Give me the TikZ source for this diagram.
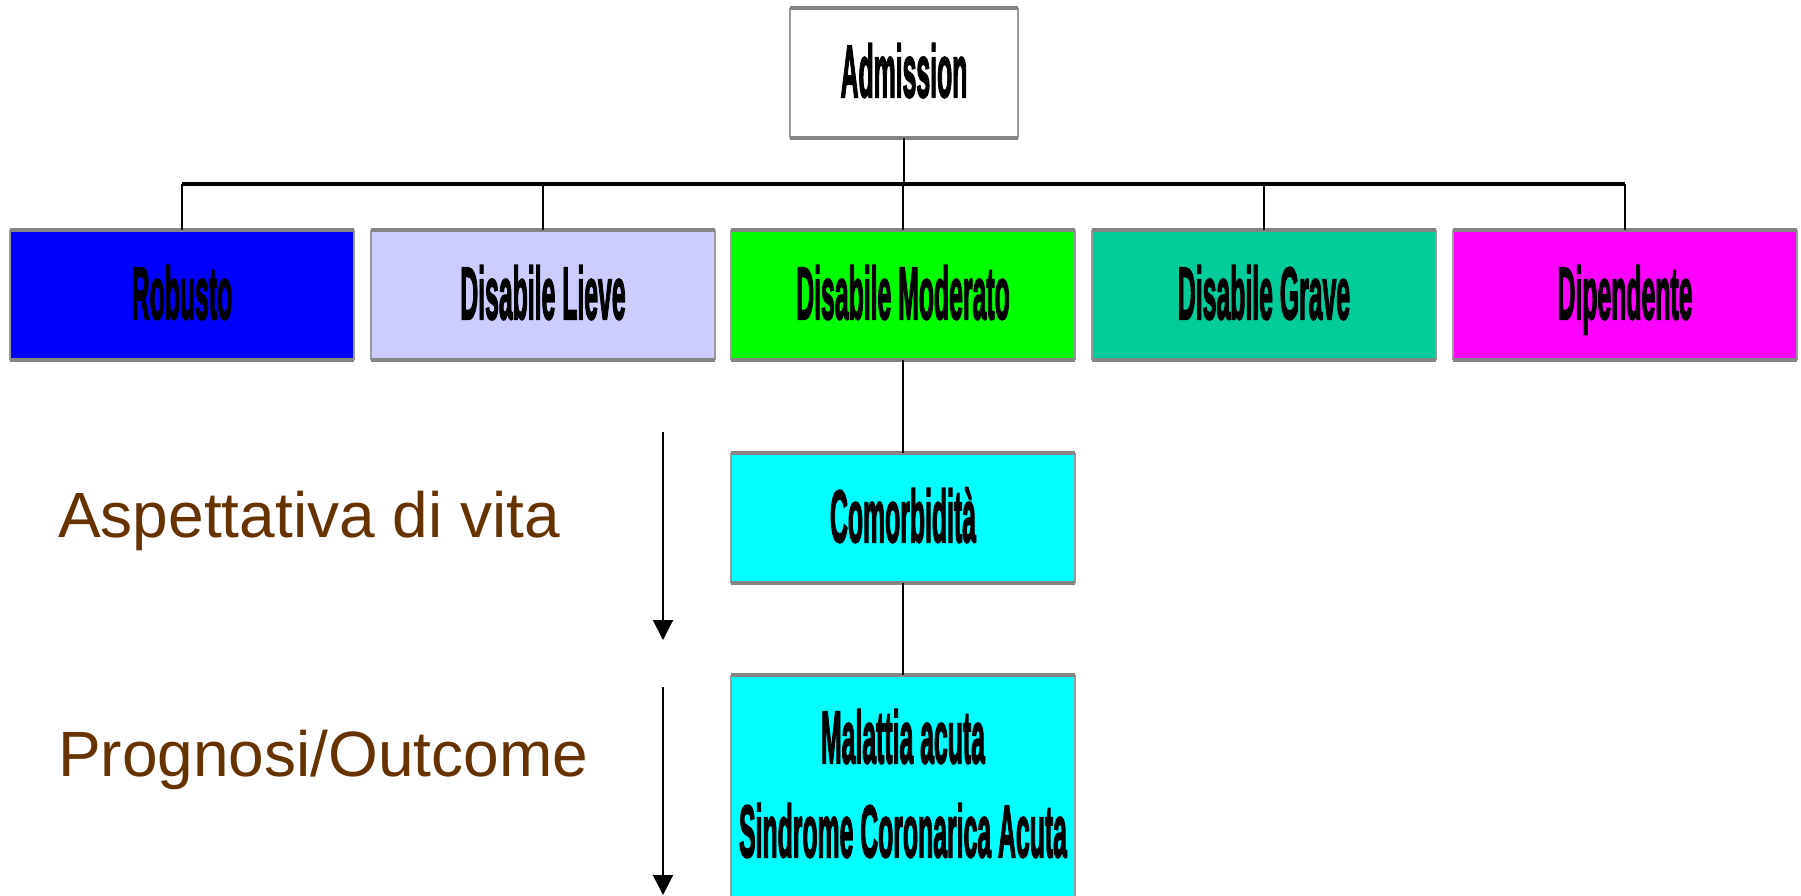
\documentclass[tikz,border=0pt]{standalone}
\usepackage{fontspec}
\setmainfont{Liberation Sans}
\newfontfamily\boxfont[FakeBold=3]{Liberation Sans Bold}
\usetikzlibrary{arrows.meta}
\definecolor{brownT}{HTML}{663300}
\definecolor{cRob}{HTML}{0000FF}
\definecolor{cLie}{HTML}{CCCCFF}
\definecolor{cMod}{HTML}{00FF00}
\definecolor{cGra}{HTML}{00CC99}
\definecolor{cDip}{HTML}{FF00FF}
\definecolor{cCya}{HTML}{00FFFF}
\definecolor{edgeTB}{HTML}{858585}
\definecolor{edgeSD}{HTML}{9A9A9A}
\newcommand{\cnd}[1]{\scalebox{0.335}[1]{\fontsize{74}{94}\boxfont #1}}
\begin{document}
\begin{tikzpicture}[x=1pt,y=-1pt,
  box/.style={minimum width=344pt, minimum height=130pt, inner sep=0pt, outer sep=0pt,
              text height=60pt, text depth=12pt, align=center},
  tbline/.style={draw=edgeTB, line width=3.5pt},
  sdline/.style={draw=edgeSD, line width=2pt},
  conn/.style={draw=black, line width=1.5pt},
  busline/.style={draw=black, line width=3.5pt},
  arr/.style={draw=black, line width=2pt, -{Triangle[width=20pt,length=20pt]}},
  side/.style={text=brownT, font=\fontsize{64}{76}\selectfont, anchor=base west, inner sep=0pt}]
\useasboundingbox (0,0) rectangle (1801,895);
\clip (0,0) rectangle (1801,895);
\fill[white] (0,0) rectangle (1801,895);

\node[box, fill=white, minimum width=228pt] (adm) at (904,73) {\cnd{Admission}};
\node[box, fill=cRob] (rob) at (182,295) {\cnd{Robusto}};
\node[box, fill=cLie] (lie) at (543,295) {\cnd{Disabile Lieve}};
\node[box, fill=cMod] (mod) at (903,295) {\cnd{Disabile Moderato}};
\node[box, fill=cGra] (gra) at (1264,295) {\cnd{Disabile Grave}};
\node[box, fill=cDip] (dip) at (1625,295) {\cnd{Dipendente}};
\node[box, fill=cCya] (com) at (903,518) {\cnd{Comorbidità}};
\node[box, fill=cCya, anchor=north, minimum height=240pt] (mal) at (903,675) {};
\node[anchor=base, inner sep=0pt] (maltxt) at (903,763)
  {\scalebox{0.335}[1]{\fontsize{74}{94}\boxfont
   \begin{tabular}[t]{@{}c@{}}Malattia acuta\\Sindrome Coronarica Acuta\end{tabular}}};

\foreach \n in {adm,rob,lie,mod,gra,dip,com,mal}{
  \draw[sdline] (\n.north west) -- (\n.south west) (\n.north east) -- (\n.south east);
  \draw[tbline] (\n.north west) -- (\n.north east) (\n.south west) -- (\n.south east);
}

\coordinate (busL) at (182,184);
\coordinate (busR) at (1625,184);
\draw[conn] (adm.south) -- (adm.south |- busL);
\foreach \n in {rob,lie,mod,gra,dip}{
  \draw[conn] (\n.north) -- (\n.north |- busL);
}
\draw[busline] (busL) -- (busR);
\draw[conn] (mod.south) -- (com.north);
\draw[conn] (com.south) -- (mal.north);

\node[side] (asp) at (58,537) {Aspettativa di vita};
\node[side] (pro) at (58,776) {Prognosi/Outcome};

\coordinate (a1s) at (663,432);
\coordinate (a1e) at (663,640);
\coordinate (a2s) at (663,687);
\coordinate (a2e) at (663,895);
\draw[arr] (a1s) -- (a1e);
\draw[arr] (a2s) -- (a2e);
\end{tikzpicture}
\end{document}
